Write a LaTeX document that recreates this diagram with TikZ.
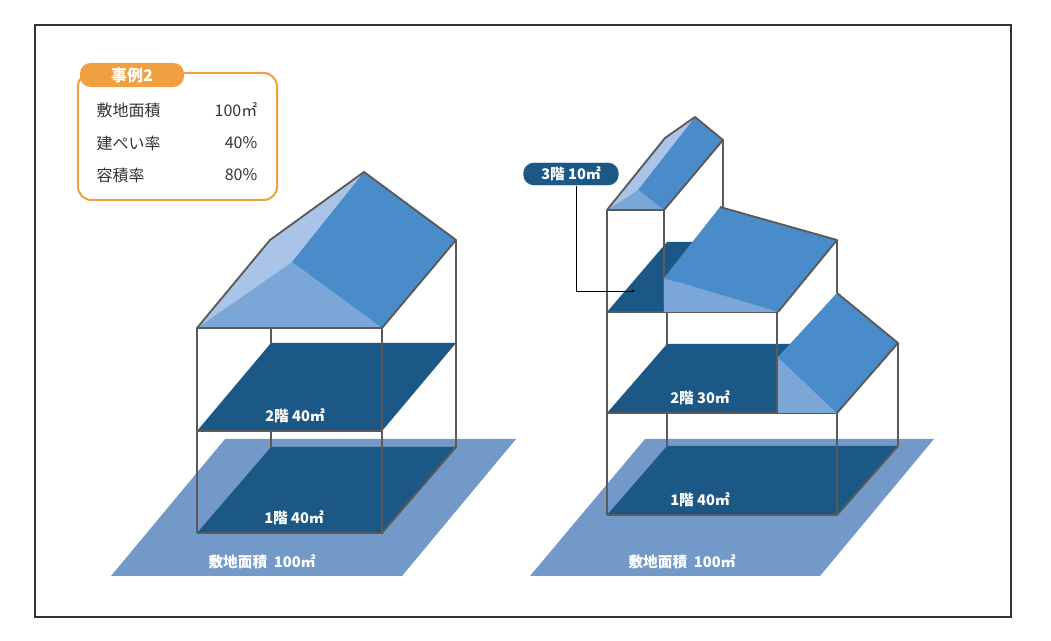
\documentclass[tikz,border=0pt]{standalone}
\usepackage{fontspec}
\usepackage{tikz}
\newfontfamily\jpfont{Noto Sans CJK JP}
\definecolor{floorblue}{HTML}{1B5886}
\definecolor{groundblue}{HTML}{7399C8}
\definecolor{roofblue}{HTML}{4A8CC9}
\definecolor{roofpale}{HTML}{AAC4E8}
\definecolor{roofmid}{HTML}{7BA6D8}
\definecolor{wallgray}{HTML}{5A5A5A}
\definecolor{tabor}{HTML}{F0A040}
\tikzset{
    wall/.style={draw=wallgray, line width=1.4pt, line join=round},
    floorlabel/.style={text=white, font=\jpfont\bfseries\fontsize{11}{13}\selectfont},
    infotext/.style={text=black!80, font=\jpfont\fontsize{12}{14}\selectfont}
}
\begin{document}
\begin{tikzpicture}[x=0.75pt, y=-0.75pt]
        \useasboundingbox (0,0) rectangle (1051,641);
        \draw[black!80, line width=0.8pt] (35,25) rectangle (1011,617);
        % info box
        \draw[tabor, line width=1.5pt, rounded corners=10pt] (78,73) rectangle (277,200);
        \node[fill=tabor, rounded corners=8pt, minimum width=78pt, minimum height=16pt, text=white,
            font=\jpfont\bfseries\fontsize{12}{14}\selectfont] (tab) at (132,75) {事例2};
        \node[infotext, anchor=west] (siteA) at (92,110) {敷地面積};
        \node[infotext, anchor=east] (siteB) at (262,110) {100㎡};
        \node[infotext, anchor=west] (bcrA) at (92,143) {建ぺい率};
        \node[infotext, anchor=east] (bcrB) at (262,143) {40\%};
        \node[infotext, anchor=west] (farA) at (92,175) {容積率};
        \node[infotext, anchor=east] (farB) at (262,175) {80\%};
        % left house
        \fill[groundblue] (111,576) -- (402,576) -- (516,439) -- (225,439) -- cycle;
        \draw[wall] (271,328) -- (271,447) (456,240) -- (456,447);
        \fill[floorblue] (197,533) -- (382,533) -- (456,447) -- (271,447) -- cycle;
        \fill[floorblue] (197,431) -- (382,431) -- (456,343) -- (271,343) -- cycle;
        \draw[wall] (197,533) -- (382,533) -- (456,447);
        \draw[wall] (197,328) -- (197,533) (382,328) -- (382,533) (197,431) -- (382,431);
        \fill[roofpale] (197,328) -- (270,240) -- (364,172) -- (292,262) -- cycle;
        \fill[roofmid] (197,328) -- (292,262) -- (382,328) -- cycle;
        \fill[roofblue] (292,262) -- (364,172) -- (456,240) -- (382,328) -- cycle;
        \draw[wall] (197,328) -- (270,240) -- (364,172) -- (456,240) -- (382,328) -- cycle;
        \node[floorlabel] (lf2) at (295,416) {2階 40㎡};
        \node[floorlabel] (lf1) at (294,518) {1階 40㎡};
        \node[floorlabel] (lsite) at (262,562) {敷地面積\ \ 100㎡};
        % right house
        \fill[groundblue] (530,576) -- (820,576) -- (934,439) -- (645,439) -- cycle;
        \draw[wall] (667,312) -- (667,446) (898,343) -- (898,446) (837,240) -- (837,293) (723,140) -- (723,207);
        \fill[floorblue] (607,515) -- (837,515) -- (898,446) -- (667,446) -- cycle;
        \fill[floorblue] (607,413) -- (837,413) -- (898,344) -- (667,344) -- cycle;
        \fill[floorblue] (607,312) -- (667,242) -- (710,242) -- (664,300) -- (664,312) -- cycle;
        \draw[wall] (607,515) -- (837,515) -- (898,446);
        \draw[wall] (607,210) -- (607,515) (837,413) -- (837,515) (607,413) -- (837,413);
        \draw[wall] (664,210) -- (664,312) (777,312) -- (777,413) (607,312) -- (777,312);
        % lower roof
        \fill[roofmid] (778,357) -- (778,413) -- (837,413) -- cycle;
        \fill[roofblue] (778,357) -- (837,293) -- (898,343) -- (837,413) -- cycle;
        \draw[wall] (837,293) -- (898,343) -- (837,413);
        % middle roof
        \fill[roofmid] (664,278) -- (664,312) -- (778,312) -- cycle;
        \fill[roofblue] (664,278) -- (720,207) -- (837,240) -- (778,312) -- cycle;
        \draw[wall] (720,207) -- (837,240) -- (778,312);
        % tower roof
        \fill[roofpale] (607,210) -- (665,138) -- (695,117) -- (638,190) -- cycle;
        \fill[roofmid] (607,210) -- (638,190) -- (664,210) -- cycle;
        \fill[roofblue] (638,190) -- (695,117) -- (723,140) -- (664,210) -- cycle;
        \draw[wall] (607,210) -- (665,138) -- (695,117) -- (723,140) -- (664,210) -- cycle;
        \node[floorlabel] (rf2) at (700,398) {2階 30㎡};
        \node[floorlabel] (rf1) at (700,500) {1階 40㎡};
        \node[floorlabel] (rsite) at (682,562) {敷地面積\ \ 100㎡};
        % callout
        \node[floorlabel, fill=floorblue, draw=white, rounded corners=8pt, minimum width=72pt,
            minimum height=17pt] (f3) at (571,174) {3階 10㎡};
        \coordinate (f3pt) at (633,291);
        \draw[black, line width=0.7pt] (f3.south -| 576,0) -- (576,291) -- (f3pt);
        \fill[black] (f3pt) circle (1.5);
    \end{tikzpicture}
\end{document}
